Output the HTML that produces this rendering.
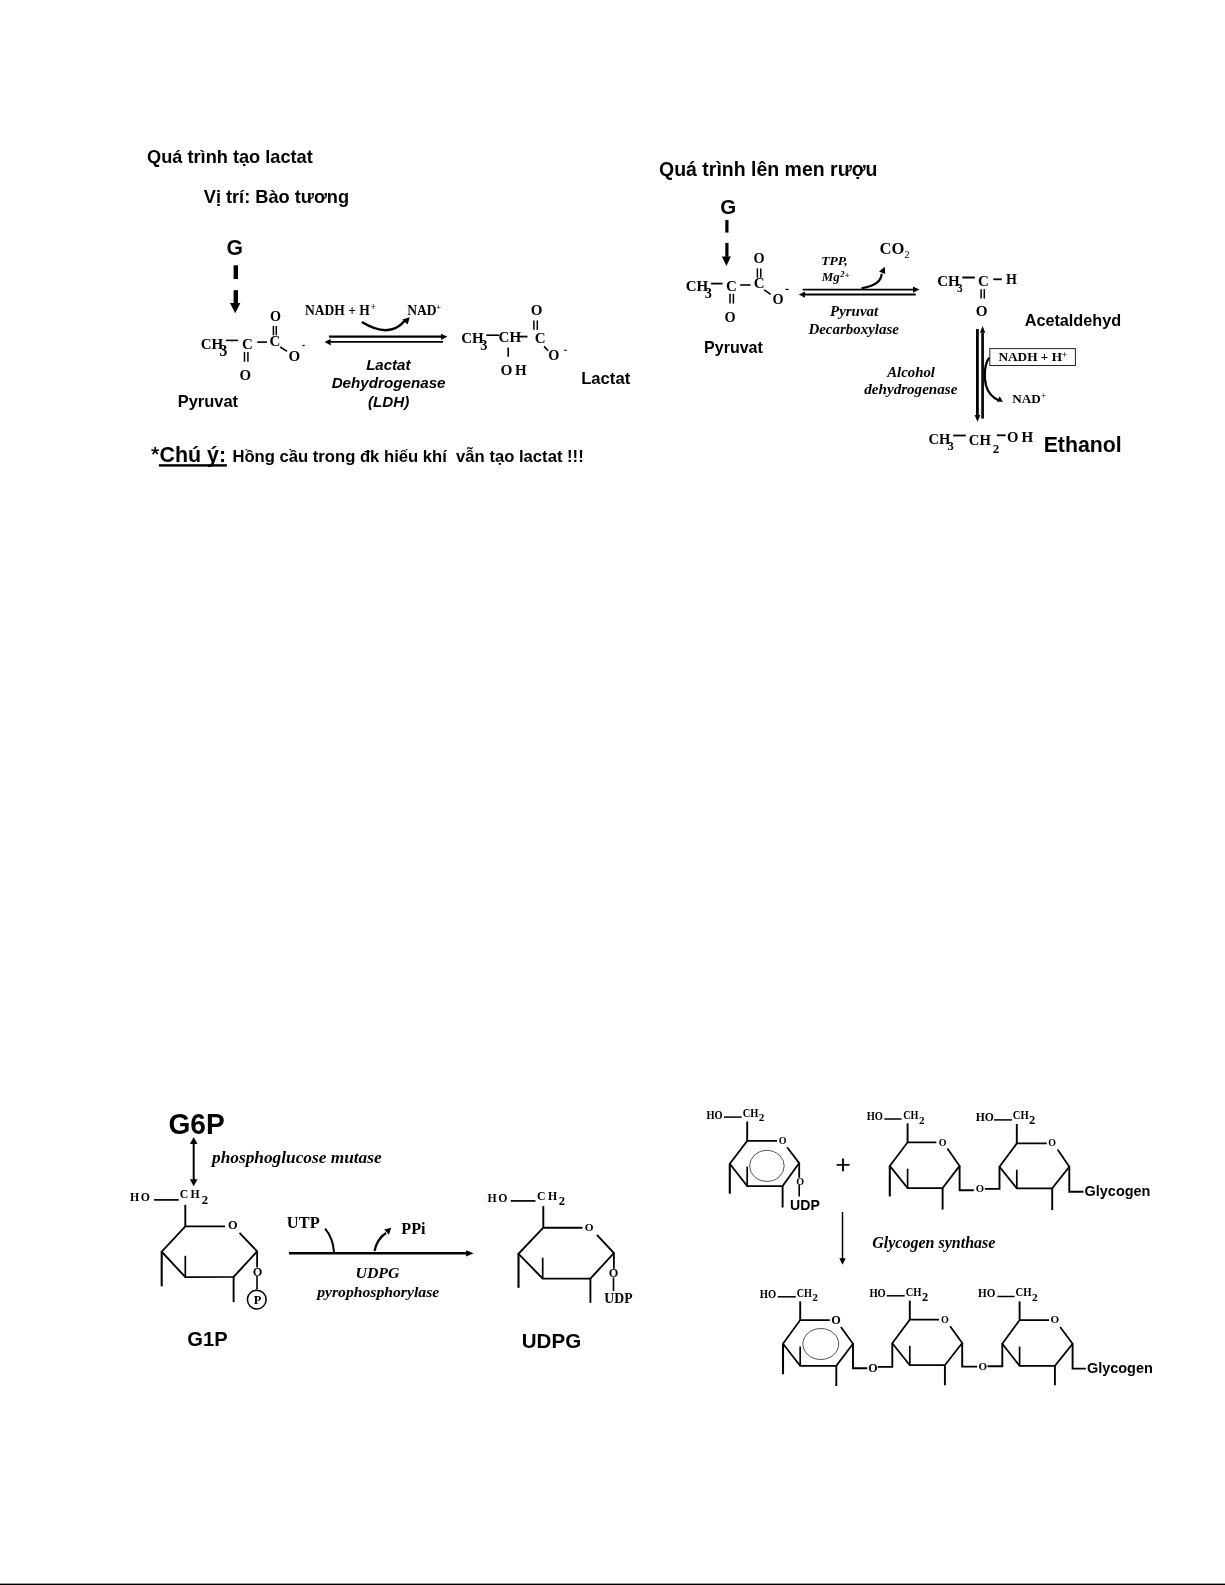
<!DOCTYPE html>
<html><head><meta charset="utf-8"><title>Page</title>
<style>html,body{margin:0;padding:0;background:#fff;}svg{display:block;filter:grayscale(1);}text{white-space:pre;}</style>
</head><body>
<svg width="1225" height="1585" viewBox="0 0 1225 1585">
<rect x="0" y="0" width="1225" height="1585" fill="#fff"/>
<text x="147.07" y="163.40" font-family='"Liberation Sans", sans-serif' font-weight="bold" font-style="normal" font-size="18.2" fill="#000">Quá trình tạo lactat</text>
<text x="203.76" y="202.60" font-family='"Liberation Sans", sans-serif' font-weight="bold" font-style="normal" font-size="18.2" fill="#000">Vị trí: Bào tương</text>
<text x="226.55" y="254.69" font-family='"Liberation Sans", sans-serif' font-weight="bold" font-style="normal" font-size="21.2" fill="#000">G</text>
<rect x="233.6" y="265.3" width="4.4" height="13.7" fill="#000"/>
<rect x="233.6" y="290.2" width="4.4" height="13.5" fill="#000"/>
<polygon points="230,303 240.4,303 235.2,313.3" fill="#000"/>
<text x="200.65" y="349.00" font-family='"Liberation Serif", serif' font-weight="bold" font-style="normal" font-size="15" fill="#000">CH</text>
<text x="219.39" y="355.74" font-family='"Liberation Serif", serif' font-weight="bold" font-style="normal" font-size="15.76" fill="#000">3</text>
<line x1="225.9" y1="340.4" x2="238.1" y2="340.4" stroke="#000" stroke-width="1.6" stroke-linecap="butt"/>
<text x="241.94" y="349.00" font-family='"Liberation Serif", serif' font-weight="bold" font-style="normal" font-size="15" fill="#000">C</text>
<line x1="244.5" y1="351.9" x2="244.5" y2="361.7" stroke="#000" stroke-width="1.5" stroke-linecap="butt"/>
<line x1="247.9" y1="351.9" x2="247.9" y2="361.7" stroke="#000" stroke-width="1.5" stroke-linecap="butt"/>
<text x="239.60" y="379.55" font-family='"Liberation Serif", serif' font-weight="bold" font-style="normal" font-size="14.87" fill="#000">O</text>
<line x1="257.2" y1="342.1" x2="267" y2="342.1" stroke="#000" stroke-width="1.6" stroke-linecap="butt"/>
<text x="269.59" y="346.00" font-family='"Liberation Serif", serif' font-weight="bold" font-style="normal" font-size="15" fill="#000">C</text>
<line x1="273.4" y1="326" x2="273.4" y2="335.3" stroke="#000" stroke-width="1.5" stroke-linecap="butt"/>
<line x1="276.3" y1="326" x2="276.3" y2="335.3" stroke="#000" stroke-width="1.5" stroke-linecap="butt"/>
<text x="270.09" y="320.76" font-family='"Liberation Serif", serif' font-weight="bold" font-style="normal" font-size="14.13" fill="#000">O</text>
<line x1="280.2" y1="347" x2="287.1" y2="351.4" stroke="#000" stroke-width="1.6" stroke-linecap="butt"/>
<text x="288.54" y="361.45" font-family='"Liberation Serif", serif' font-weight="bold" font-style="normal" font-size="15.02" fill="#000">O</text>
<rect x="302.3" y="344.9" width="2.4" height="1.2" fill="#000"/>
<text x="305.03" y="314.70" font-family='"Liberation Serif", serif' font-weight="bold" font-style="normal" font-size="13.54" fill="#000">NADH + H</text>
<text x="370.50" y="310.05" font-family='"Liberation Serif", serif' font-weight="bold" font-style="normal" font-size="9.46" fill="#000">+</text>
<text x="407.23" y="314.70" font-family='"Liberation Serif", serif' font-weight="bold" font-style="normal" font-size="13.54" fill="#000">NAD</text>
<text x="436.20" y="309.76" font-family='"Liberation Serif", serif' font-weight="bold" font-style="normal" font-size="8.6" fill="#000">+</text>
<path d="M361.9 322 Q389.6 339 405 320.6" stroke="#000" stroke-width="2.4" fill="none"/>
<polygon points="409.8,317.2 402.4,319.4 407.6,324.6" fill="#000"/>
<line x1="329" y1="336.7" x2="442" y2="336.7" stroke="#000" stroke-width="2.2" stroke-linecap="butt"/>
<polygon points="447.4,336.8 440.9,333.7 441.4,336.8 440.9,340.1" fill="#000"/>
<line x1="329.5" y1="341.9" x2="443" y2="341.9" stroke="#000" stroke-width="1.9" stroke-linecap="butt"/>
<polygon points="324.6,341.9 330.9,338.7 330.4,341.9 330.9,345.5" fill="#000"/>
<text x="366.14" y="369.60" font-family='"Liberation Sans", sans-serif' font-weight="bold" font-style="italic" font-size="15.05" fill="#000">Lactat</text>
<text x="331.63" y="387.70" font-family='"Liberation Sans", sans-serif' font-weight="bold" font-style="italic" font-size="15.19" fill="#000">Dehydrogenase</text>
<text x="367.97" y="406.80" font-family='"Liberation Sans", sans-serif' font-weight="bold" font-style="italic" font-size="15.18" fill="#000">(LDH)</text>
<text x="461.15" y="343.00" font-family='"Liberation Serif", serif' font-weight="bold" font-style="normal" font-size="15" fill="#000">CH</text>
<text x="480.28" y="349.66" font-family='"Liberation Serif", serif' font-weight="bold" font-style="normal" font-size="14.42" fill="#000">3</text>
<line x1="486.3" y1="335.2" x2="499.1" y2="335.2" stroke="#000" stroke-width="1.6" stroke-linecap="butt"/>
<text x="498.55" y="342.00" font-family='"Liberation Serif", serif' font-weight="bold" font-style="normal" font-size="15" fill="#000">CH</text>
<line x1="517.7" y1="336.6" x2="527.5" y2="336.6" stroke="#000" stroke-width="1.8" stroke-linecap="butt"/>
<line x1="508.2" y1="347.4" x2="508.2" y2="356.7" stroke="#000" stroke-width="1.6" stroke-linecap="butt"/>
<text x="500.43" y="375.25" font-family='"Liberation Serif", serif' font-weight="bold" font-style="normal" font-size="15.32" fill="#000">O</text>
<text x="515.00" y="375.30" font-family='"Liberation Serif", serif' font-weight="bold" font-style="normal" font-size="15" fill="#000">H</text>
<text x="534.74" y="343.00" font-family='"Liberation Serif", serif' font-weight="bold" font-style="normal" font-size="15" fill="#000">C</text>
<line x1="533.9" y1="320.5" x2="533.9" y2="329.8" stroke="#000" stroke-width="1.5" stroke-linecap="butt"/>
<line x1="537.3" y1="320.5" x2="537.3" y2="329.8" stroke="#000" stroke-width="1.5" stroke-linecap="butt"/>
<text x="530.69" y="315.35" font-family='"Liberation Serif", serif' font-weight="bold" font-style="normal" font-size="15.02" fill="#000">O</text>
<line x1="544.1" y1="346.4" x2="548.1" y2="350.8" stroke="#000" stroke-width="1.6" stroke-linecap="butt"/>
<text x="548.13" y="360.36" font-family='"Liberation Serif", serif' font-weight="bold" font-style="normal" font-size="14.28" fill="#000">O</text>
<rect x="564.2" y="349.7" width="2.5" height="1.2" fill="#000"/>
<text x="581.18" y="383.70" font-family='"Liberation Sans", sans-serif' font-weight="bold" font-style="normal" font-size="16.65" fill="#000">Lactat</text>
<text x="177.69" y="406.60" font-family='"Liberation Sans", sans-serif' font-weight="bold" font-style="normal" font-size="16.47" fill="#000">Pyruvat</text>
<line x1="155.2" y1="450.9" x2="155.2" y2="447.6" stroke="#000" stroke-width="1.7" stroke-linecap="round"/>
<line x1="155.2" y1="450.9" x2="152.0" y2="450.0" stroke="#000" stroke-width="1.7" stroke-linecap="round"/>
<line x1="155.2" y1="450.9" x2="158.4" y2="450.0" stroke="#000" stroke-width="1.7" stroke-linecap="round"/>
<line x1="155.2" y1="450.9" x2="153.1" y2="453.5" stroke="#000" stroke-width="1.7" stroke-linecap="round"/>
<line x1="155.2" y1="450.9" x2="157.3" y2="453.5" stroke="#000" stroke-width="1.7" stroke-linecap="round"/>
<text x="159.44" y="462.00" font-family='"Liberation Sans", sans-serif' font-weight="bold" font-style="normal" font-size="21.41" fill="#000">Chú ý:</text>
<rect x="158.9" y="464.2" width="68" height="2.4" fill="#000"/>
<text x="232.38" y="462.00" font-family='"Liberation Sans", sans-serif' font-weight="bold" font-style="normal" font-size="16.65" fill="#000">Hồng cầu trong đk hiếu khí  vẫn tạo lactat !!!</text>
<text x="659.02" y="176.00" font-family='"Liberation Sans", sans-serif' font-weight="bold" font-style="normal" font-size="19.49" fill="#000">Quá trình lên men rượu</text>
<text x="720.27" y="213.70" font-family='"Liberation Sans", sans-serif' font-weight="bold" font-style="normal" font-size="20.49" fill="#000">G</text>
<rect x="725.3" y="219.9" width="3.2" height="12.7" fill="#000"/>
<rect x="725.3" y="242.9" width="3.2" height="14" fill="#000"/>
<polygon points="721.9,256.6 730.9,256.6 726.4,265.9" fill="#000"/>
<text x="685.65" y="290.90" font-family='"Liberation Serif", serif' font-weight="bold" font-style="normal" font-size="15" fill="#000">CH</text>
<text x="704.81" y="297.56" font-family='"Liberation Serif", serif' font-weight="bold" font-style="normal" font-size="14.28" fill="#000">3</text>
<line x1="710.9" y1="283.6" x2="722.6" y2="283.6" stroke="#000" stroke-width="1.8" stroke-linecap="butt"/>
<text x="725.94" y="290.90" font-family='"Liberation Serif", serif' font-weight="bold" font-style="normal" font-size="15" fill="#000">C</text>
<line x1="730" y1="293.8" x2="730" y2="303.6" stroke="#000" stroke-width="1.5" stroke-linecap="butt"/>
<line x1="733.4" y1="293.8" x2="733.4" y2="303.6" stroke="#000" stroke-width="1.5" stroke-linecap="butt"/>
<text x="724.38" y="321.56" font-family='"Liberation Serif", serif' font-weight="bold" font-style="normal" font-size="14.28" fill="#000">O</text>
<line x1="740.2" y1="285" x2="750.5" y2="285" stroke="#000" stroke-width="1.6" stroke-linecap="butt"/>
<text x="753.69" y="288.00" font-family='"Liberation Serif", serif' font-weight="bold" font-style="normal" font-size="15" fill="#000">C</text>
<line x1="757.4" y1="268.4" x2="757.4" y2="277.7" stroke="#000" stroke-width="1.5" stroke-linecap="butt"/>
<line x1="760.8" y1="268.4" x2="760.8" y2="277.7" stroke="#000" stroke-width="1.5" stroke-linecap="butt"/>
<text x="753.53" y="262.76" font-family='"Liberation Serif", serif' font-weight="bold" font-style="normal" font-size="14.28" fill="#000">O</text>
<line x1="764.2" y1="289.9" x2="770.6" y2="294.3" stroke="#000" stroke-width="1.6" stroke-linecap="butt"/>
<text x="772.38" y="303.86" font-family='"Liberation Serif", serif' font-weight="bold" font-style="normal" font-size="14.28" fill="#000">O</text>
<rect x="785.3" y="288.8" width="3.4" height="1.2" fill="#000"/>
<text x="704.02" y="353.10" font-family='"Liberation Sans", sans-serif' font-weight="bold" font-style="normal" font-size="16.06" fill="#000">Pyruvat</text>
<text x="821.22" y="264.90" font-family='"Liberation Serif", serif' font-weight="bold" font-style="italic" font-size="13.46" fill="#000">TPP,</text>
<text x="821.76" y="280.70" font-family='"Liberation Serif", serif' font-weight="bold" font-style="italic" font-size="12.95" fill="#000">Mg</text>
<text x="840.25" y="276.90" font-family='"Liberation Serif", serif' font-weight="bold" font-style="italic" font-size="8.6" fill="#000">2</text>
<text x="844.51" y="277.60" font-family='"Liberation Serif", serif' font-weight="bold" font-style="italic" font-size="9.03" fill="#000">+</text>
<text x="879.57" y="254.10" font-family='"Liberation Serif", serif' font-weight="bold" font-style="normal" font-size="16.61" fill="#000">CO</text>
<text x="904.42" y="257.70" font-family='"Liberation Serif", serif' font-weight="normal" font-style="normal" font-size="10.11" fill="#000">2</text>
<line x1="802.6" y1="289.6" x2="914" y2="289.6" stroke="#000" stroke-width="1.7" stroke-linecap="butt"/>
<polygon points="919.4,289.5 913,286.6 913,292.7" fill="#000"/>
<line x1="804" y1="294.6" x2="915.7" y2="294.6" stroke="#000" stroke-width="2" stroke-linecap="butt"/>
<polygon points="798.8,294.4 805,291.5 805,297.8" fill="#000"/>
<path d="M861.5 288.3 Q881.5 285 881.6 273.8" stroke="#000" stroke-width="2.2" fill="none"/>
<polygon points="884.8,266.7 879,271.6 885.2,274" fill="#000"/>
<text x="830.00" y="315.60" font-family='"Liberation Serif", serif' font-weight="bold" font-style="italic" font-size="14.97" fill="#000">Pyruvat</text>
<text x="808.41" y="333.50" font-family='"Liberation Serif", serif' font-weight="bold" font-style="italic" font-size="14.95" fill="#000">Decarboxylase</text>
<text x="937.25" y="286.00" font-family='"Liberation Serif", serif' font-weight="bold" font-style="normal" font-size="15" fill="#000">CH</text>
<text x="957.12" y="291.79" font-family='"Liberation Serif", serif' font-weight="bold" font-style="normal" font-size="11.45" fill="#000">3</text>
<line x1="962.3" y1="277.5" x2="974.8" y2="277.5" stroke="#000" stroke-width="2" stroke-linecap="butt"/>
<text x="977.94" y="286.00" font-family='"Liberation Serif", serif' font-weight="bold" font-style="normal" font-size="15" fill="#000">C</text>
<line x1="993.2" y1="279.3" x2="1001.8" y2="279.3" stroke="#000" stroke-width="1.8" stroke-linecap="butt"/>
<text x="1005.97" y="284.10" font-family='"Liberation Serif", serif' font-weight="bold" font-style="normal" font-size="14.05" fill="#000">H</text>
<line x1="981.1" y1="289.2" x2="981.1" y2="298.6" stroke="#000" stroke-width="1.5" stroke-linecap="butt"/>
<line x1="984.3" y1="289.2" x2="984.3" y2="298.6" stroke="#000" stroke-width="1.5" stroke-linecap="butt"/>
<text x="975.68" y="316.35" font-family='"Liberation Serif", serif' font-weight="bold" font-style="normal" font-size="15.17" fill="#000">O</text>
<text x="1024.69" y="326.10" font-family='"Liberation Sans", sans-serif' font-weight="bold" font-style="normal" font-size="16.23" fill="#000">Acetaldehyd</text>
<rect x="976" y="329.1" width="2.8" height="86" fill="#000"/>
<polygon points="974.6,415 980.4,415 977.5,421.7" fill="#000"/>
<rect x="981.3" y="332.6" width="2.6" height="86" fill="#000"/>
<polygon points="980,332.8 985.3,332.8 982.6,326" fill="#000"/>
<rect x="989.8" y="348.6" width="85.6" height="16.9" fill="none" stroke="#222" stroke-width="1"/>
<text x="998.43" y="360.90" font-family='"Liberation Serif", serif' font-weight="bold" font-style="normal" font-size="13.28" fill="#000">NADH + H</text>
<text x="1061.15" y="358.10" font-family='"Liberation Serif", serif' font-weight="normal" font-style="normal" font-size="10.97" fill="#000">+</text>
<path d="M989.3 357.8 C984.3 364 983.8 377 986 385.5 C988 392.5 992.5 397.5 998.5 400.2" stroke="#000" stroke-width="2.3" fill="none"/>
<polygon points="1003,401.8 999.6,396.2 997,401.8" fill="#000"/>
<text x="1012.24" y="402.80" font-family='"Liberation Serif", serif' font-weight="bold" font-style="normal" font-size="13.16" fill="#000">NAD</text>
<text x="1041.12" y="399.37" font-family='"Liberation Serif", serif' font-weight="normal" font-style="normal" font-size="9.68" fill="#000">+</text>
<text x="887.18" y="376.50" font-family='"Liberation Serif", serif' font-weight="bold" font-style="italic" font-size="14.82" fill="#000">Alcohol</text>
<text x="864.31" y="393.90" font-family='"Liberation Serif", serif' font-weight="bold" font-style="italic" font-size="15.1" fill="#000">dehydrogenase</text>
<text x="928.48" y="444.20" font-family='"Liberation Serif", serif' font-weight="bold" font-style="normal" font-size="14.5" fill="#000">CH</text>
<text x="947.62" y="450.27" font-family='"Liberation Serif", serif' font-weight="bold" font-style="normal" font-size="12.64" fill="#000">3</text>
<line x1="953.2" y1="435.5" x2="965.8" y2="435.5" stroke="#000" stroke-width="1.8" stroke-linecap="butt"/>
<text x="968.86" y="444.70" font-family='"Liberation Serif", serif' font-weight="bold" font-style="normal" font-size="14.7" fill="#000">CH</text>
<text x="992.82" y="452.90" font-family='"Liberation Serif", serif' font-weight="bold" font-style="normal" font-size="13.13" fill="#000">2</text>
<line x1="996.8" y1="435.3" x2="1005.7" y2="435.3" stroke="#000" stroke-width="1.8" stroke-linecap="butt"/>
<text x="1007.01" y="442.35" font-family='"Liberation Serif", serif' font-weight="bold" font-style="normal" font-size="14.72" fill="#000">O</text>
<text x="1021.45" y="441.90" font-family='"Liberation Serif", serif' font-weight="bold" font-style="normal" font-size="15" fill="#000">H</text>
<text x="1043.66" y="451.80" font-family='"Liberation Sans", sans-serif' font-weight="bold" font-style="normal" font-size="21.3" fill="#000">Ethanol</text>
<text x="168.38" y="1133.70" font-family='"Liberation Sans", sans-serif' font-weight="bold" font-style="normal" font-size="29" textLength="56.27" lengthAdjust="spacingAndGlyphs" fill="#000">G6P</text>
<line x1="193.7" y1="1143" x2="193.7" y2="1180" stroke="#000" stroke-width="2" stroke-linecap="butt"/>
<polygon points="193.7,1136.9 189.9,1143.9 197.5,1143.9" fill="#000"/>
<polygon points="193.7,1186.3 189.9,1179.3 197.5,1179.3" fill="#000"/>
<text x="212.01" y="1162.60" font-family='"Liberation Serif", serif' font-weight="bold" font-style="italic" font-size="17.31" fill="#000">phosphoglucose mutase</text>
<text x="129.99" y="1200.90" font-family='"Liberation Serif", serif' font-weight="bold" font-style="normal" font-size="11.8" textLength="19.98" lengthAdjust="spacing" fill="#000">HO</text>
<line x1="154" y1="1199.9" x2="178.8" y2="1199.9" stroke="#000" stroke-width="1.7" stroke-linecap="butt"/>
<text x="179.81" y="1198.20" font-family='"Liberation Serif", serif' font-weight="bold" font-style="normal" font-size="11.8" textLength="19.87" lengthAdjust="spacing" fill="#000">CH</text>
<text x="201.73" y="1203.80" font-family='"Liberation Serif", serif' font-weight="bold" font-style="normal" font-size="12.68" fill="#000">2</text>
<line x1="185.3" y1="1204.8" x2="185.3" y2="1226.4" stroke="#000" stroke-width="1.9" stroke-linecap="butt"/>
<polyline points="225.1,1226.4 185.3,1226.4 161.7,1251.7 185.3,1277.1 233.6,1276.9 257.1,1251.4 239.5,1232.9" stroke="#000" stroke-width="1.9" fill="none" stroke-linejoin="miter"/>
<text x="227.89" y="1229.38" font-family='"Liberation Serif", serif' font-weight="bold" font-style="normal" font-size="12.34" fill="#000">O</text>
<line x1="161.7" y1="1251.7" x2="161.7" y2="1286.3" stroke="#000" stroke-width="2.1" stroke-linecap="butt"/>
<line x1="185.3" y1="1277.1" x2="185.3" y2="1255.8" stroke="#000" stroke-width="1.7" stroke-linecap="butt"/>
<line x1="233.6" y1="1276.9" x2="233.6" y2="1302.1" stroke="#000" stroke-width="1.9" stroke-linecap="butt"/>
<line x1="257.1" y1="1251.4" x2="257.1" y2="1267.5" stroke="#000" stroke-width="1.8" stroke-linecap="butt"/>
<text x="252.64" y="1275.78" font-family='"Liberation Serif", serif' font-weight="bold" font-style="normal" font-size="12.34" fill="#000">O</text>
<line x1="257" y1="1276" x2="257" y2="1289.6" stroke="#000" stroke-width="1.6" stroke-linecap="butt"/>
<circle cx="256.8" cy="1299.6" r="9.4" fill="none" stroke="#000" stroke-width="1.5"/>
<text x="253.84" y="1303.60" font-family='"Liberation Serif", serif' font-weight="bold" font-style="normal" font-size="12.37" fill="#000">P</text>
<text x="286.89" y="1227.50" font-family='"Liberation Serif", serif' font-weight="bold" font-style="normal" font-size="15.7" textLength="32.76" lengthAdjust="spacingAndGlyphs" fill="#000">UTP</text>
<path d="M325.1 1228.7 Q333 1238 334 1252" stroke="#000" stroke-width="2" fill="none"/>
<line x1="288.9" y1="1253.2" x2="467" y2="1253.2" stroke="#000" stroke-width="2.4" stroke-linecap="butt"/>
<polygon points="473.7,1253.3 466.1,1250.2 466.1,1256.5" fill="#000"/>
<path d="M374.5 1251 Q377 1239 386 1233" stroke="#000" stroke-width="2.2" fill="none"/>
<polygon points="391.2,1227.8 384.2,1229.6 388.9,1234.8" fill="#000"/>
<text x="401.32" y="1234.40" font-family='"Liberation Serif", serif' font-weight="bold" font-style="normal" font-size="15.7" textLength="24.22" lengthAdjust="spacingAndGlyphs" fill="#000">PPi</text>
<text x="355.49" y="1278.40" font-family='"Liberation Serif", serif' font-weight="bold" font-style="italic" font-size="14.1" textLength="44.00" lengthAdjust="spacingAndGlyphs" fill="#000">UDPG</text>
<text x="317.20" y="1296.60" font-family='"Liberation Serif", serif' font-weight="bold" font-style="italic" font-size="14.3" textLength="122.03" lengthAdjust="spacingAndGlyphs" fill="#000">pyrophosphorylase</text>
<text x="487.39" y="1201.90" font-family='"Liberation Serif", serif' font-weight="bold" font-style="normal" font-size="11.8" textLength="19.98" lengthAdjust="spacing" fill="#000">HO</text>
<line x1="510.7" y1="1200.9" x2="535.5" y2="1200.9" stroke="#000" stroke-width="1.7" stroke-linecap="butt"/>
<text x="536.91" y="1200.20" font-family='"Liberation Serif", serif' font-weight="bold" font-style="normal" font-size="11.8" textLength="20.37" lengthAdjust="spacing" fill="#000">CH</text>
<text x="558.82" y="1205.40" font-family='"Liberation Serif", serif' font-weight="bold" font-style="normal" font-size="12.53" fill="#000">2</text>
<line x1="543.3" y1="1206.1" x2="543.3" y2="1227.7" stroke="#000" stroke-width="1.9" stroke-linecap="butt"/>
<polyline points="582.5,1227.7 543.3,1227.7 518.5,1253.8 542.7,1278.6 590.4,1278.6 613.9,1253.1 596.9,1234.9" stroke="#000" stroke-width="1.9" fill="none" stroke-linejoin="miter"/>
<text x="584.64" y="1230.69" font-family='"Liberation Serif", serif' font-weight="bold" font-style="normal" font-size="11.3" fill="#000">O</text>
<line x1="518.5" y1="1253.8" x2="518.5" y2="1287.8" stroke="#000" stroke-width="2.1" stroke-linecap="butt"/>
<line x1="542.7" y1="1278.6" x2="542.7" y2="1257.7" stroke="#000" stroke-width="1.7" stroke-linecap="butt"/>
<line x1="590.4" y1="1278.6" x2="590.4" y2="1302.8" stroke="#000" stroke-width="1.9" stroke-linecap="butt"/>
<line x1="613.9" y1="1253.1" x2="613.9" y2="1268.8" stroke="#000" stroke-width="1.8" stroke-linecap="butt"/>
<text x="608.74" y="1277.08" font-family='"Liberation Serif", serif' font-weight="bold" font-style="normal" font-size="12.34" fill="#000">O</text>
<line x1="613.5" y1="1277.3" x2="613.5" y2="1291" stroke="#000" stroke-width="1.6" stroke-linecap="butt"/>
<text x="604.36" y="1302.80" font-family='"Liberation Serif", serif' font-weight="bold" font-style="normal" font-size="13.73" fill="#000">UDP</text>
<text x="187.29" y="1345.50" font-family='"Liberation Sans", sans-serif' font-weight="bold" font-style="normal" font-size="20.8" textLength="40.38" lengthAdjust="spacingAndGlyphs" fill="#000">G1P</text>
<text x="521.77" y="1347.90" font-family='"Liberation Sans", sans-serif' font-weight="bold" font-style="normal" font-size="20.4" textLength="59.40" lengthAdjust="spacingAndGlyphs" fill="#000">UDPG</text>
<text x="706.52" y="1118.70" font-family='"Liberation Serif", serif' font-weight="bold" font-style="normal" font-size="11.5" textLength="16.18" lengthAdjust="spacingAndGlyphs" fill="#000">HO</text>
<line x1="723.9" y1="1117.1" x2="741.6" y2="1117.1" stroke="#000" stroke-width="1.5" stroke-linecap="butt"/>
<text x="742.78" y="1116.70" font-family='"Liberation Serif", serif' font-weight="bold" font-style="normal" font-size="11.5" textLength="15.68" lengthAdjust="spacingAndGlyphs" fill="#000">CH</text>
<text x="758.76" y="1121.40" font-family='"Liberation Serif", serif' font-weight="bold" font-style="normal" font-size="11.17" fill="#000">2</text>
<line x1="747.2" y1="1121.5" x2="747.2" y2="1140.9" stroke="#000" stroke-width="1.9" stroke-linecap="butt"/>
<polyline points="777,1140.9 747.2,1140.9 729.8,1163.8 747.2,1186 782.6,1186 799.2,1163.1 787.1,1147.2" stroke="#000" stroke-width="1.75" fill="none" stroke-linejoin="miter"/>
<text x="778.67" y="1143.50" font-family='"Liberation Serif", serif' font-weight="bold" font-style="normal" font-size="9.96" fill="#000">O</text>
<line x1="729.8" y1="1163.8" x2="729.8" y2="1193.7" stroke="#000" stroke-width="2.1" stroke-linecap="butt"/>
<line x1="747.2" y1="1186" x2="747.2" y2="1166.6" stroke="#000" stroke-width="1.7" stroke-linecap="butt"/>
<line x1="782.6" y1="1186" x2="782.6" y2="1207.5" stroke="#000" stroke-width="1.9" stroke-linecap="butt"/>
<line x1="799.2" y1="1163.1" x2="799.2" y2="1177.7" stroke="#000" stroke-width="1.8" stroke-linecap="butt"/>
<text x="796.16" y="1184.50" font-family='"Liberation Serif", serif' font-weight="bold" font-style="normal" font-size="10.11" fill="#000">O</text>
<line x1="799.2" y1="1184.7" x2="799.2" y2="1196.5" stroke="#000" stroke-width="1.6" stroke-linecap="butt"/>
<text x="790.06" y="1209.60" font-family='"Liberation Sans", sans-serif' font-weight="bold" font-style="normal" font-size="14.08" fill="#000">UDP</text>
<ellipse cx="766.9" cy="1165.9" rx="17.3" ry="15.5" fill="none" stroke="#555" stroke-width="1"/>
<line x1="836.6" y1="1164.9" x2="849.6" y2="1164.9" stroke="#000" stroke-width="1.7" stroke-linecap="butt"/>
<line x1="843" y1="1158.6" x2="843" y2="1171.3" stroke="#000" stroke-width="1.9" stroke-linecap="butt"/>
<text x="866.72" y="1120.10" font-family='"Liberation Serif", serif' font-weight="bold" font-style="normal" font-size="11.5" textLength="16.29" lengthAdjust="spacingAndGlyphs" fill="#000">HO</text>
<line x1="884.3" y1="1119" x2="901.6" y2="1119" stroke="#000" stroke-width="1.5" stroke-linecap="butt"/>
<text x="903.19" y="1118.70" font-family='"Liberation Serif", serif' font-weight="bold" font-style="normal" font-size="11.5" textLength="15.26" lengthAdjust="spacingAndGlyphs" fill="#000">CH</text>
<text x="918.96" y="1123.50" font-family='"Liberation Serif", serif' font-weight="bold" font-style="normal" font-size="11.17" fill="#000">2</text>
<line x1="907.6" y1="1123.3" x2="907.6" y2="1142.3" stroke="#000" stroke-width="1.9" stroke-linecap="butt"/>
<polyline points="936.3,1142.3 907.6,1142.3 889.8,1165.9 907.6,1188.1 942.6,1188.1 959.6,1165.9 947.4,1148.6" stroke="#000" stroke-width="1.75" fill="none" stroke-linejoin="miter"/>
<text x="938.67" y="1145.60" font-family='"Liberation Serif", serif' font-weight="bold" font-style="normal" font-size="9.96" fill="#000">O</text>
<line x1="889.8" y1="1165.9" x2="889.8" y2="1196.4" stroke="#000" stroke-width="2.1" stroke-linecap="butt"/>
<line x1="907.6" y1="1188.1" x2="907.6" y2="1168.7" stroke="#000" stroke-width="1.7" stroke-linecap="butt"/>
<line x1="942.6" y1="1188.1" x2="942.6" y2="1209.6" stroke="#000" stroke-width="1.9" stroke-linecap="butt"/>
<polyline points="959.6,1165.9 959.6,1190.2 973.8,1190.2" stroke="#000" stroke-width="1.9" fill="none" stroke-linejoin="miter"/>
<text x="975.87" y="1192.49" font-family='"Liberation Serif", serif' font-weight="bold" font-style="normal" font-size="10.71" fill="#000">O</text>
<polyline points="984.9,1188.9 999.5,1188.9 999.5,1166.5" stroke="#000" stroke-width="1.9" fill="none" stroke-linejoin="miter"/>
<text x="975.70" y="1120.60" font-family='"Liberation Serif", serif' font-weight="bold" font-style="normal" font-size="11.5" textLength="18.17" lengthAdjust="spacingAndGlyphs" fill="#000">HO</text>
<line x1="994" y1="1119.9" x2="1011.9" y2="1119.9" stroke="#000" stroke-width="1.5" stroke-linecap="butt"/>
<text x="1012.87" y="1119.40" font-family='"Liberation Serif", serif' font-weight="bold" font-style="normal" font-size="11.5" textLength="15.89" lengthAdjust="spacingAndGlyphs" fill="#000">CH</text>
<text x="1028.92" y="1123.90" font-family='"Liberation Serif", serif' font-weight="bold" font-style="normal" font-size="12.53" fill="#000">2</text>
<line x1="1016.8" y1="1124" x2="1016.8" y2="1143.4" stroke="#000" stroke-width="1.9" stroke-linecap="butt"/>
<polyline points="1046.8,1143.4 1016.8,1143.4 999.5,1166.7 1016.8,1188.4 1052.2,1188.4 1069.3,1166.7 1057.6,1149.6" stroke="#000" stroke-width="1.75" fill="none" stroke-linejoin="miter"/>
<text x="1048.32" y="1146.30" font-family='"Liberation Serif", serif' font-weight="bold" font-style="normal" font-size="9.96" fill="#000">O</text>
<line x1="1016.8" y1="1188.4" x2="1016.8" y2="1169.8" stroke="#000" stroke-width="1.7" stroke-linecap="butt"/>
<line x1="1052.2" y1="1188.4" x2="1052.2" y2="1210.1" stroke="#000" stroke-width="1.9" stroke-linecap="butt"/>
<polyline points="1069.3,1166.7 1069.3,1191.7 1083.5,1191.7" stroke="#000" stroke-width="1.9" fill="none" stroke-linejoin="miter"/>
<text x="1084.52" y="1195.80" font-family='"Liberation Sans", sans-serif' font-weight="bold" font-style="normal" font-size="14.48" fill="#000">Glycogen</text>
<line x1="842.5" y1="1212" x2="842.5" y2="1259" stroke="#000" stroke-width="1.5" stroke-linecap="butt"/>
<polygon points="839.3,1258.3 845.7,1258.3 842.5,1264.8" fill="#000"/>
<text x="872.14" y="1247.70" font-family='"Liberation Serif", serif' font-weight="bold" font-style="italic" font-size="16.05" fill="#000">Glycogen synthase</text>
<text x="759.82" y="1297.90" font-family='"Liberation Serif", serif' font-weight="bold" font-style="normal" font-size="11.5" textLength="16.39" lengthAdjust="spacingAndGlyphs" fill="#000">HO</text>
<line x1="777.8" y1="1296.8" x2="795.8" y2="1296.8" stroke="#000" stroke-width="1.5" stroke-linecap="butt"/>
<text x="796.69" y="1296.50" font-family='"Liberation Serif", serif' font-weight="bold" font-style="normal" font-size="11.5" textLength="15.26" lengthAdjust="spacingAndGlyphs" fill="#000">CH</text>
<text x="812.37" y="1301.30" font-family='"Liberation Serif", serif' font-weight="bold" font-style="normal" font-size="11.32" fill="#000">2</text>
<line x1="800.2" y1="1301.4" x2="800.2" y2="1320.1" stroke="#000" stroke-width="1.9" stroke-linecap="butt"/>
<polyline points="829.8,1320.1 800.2,1320.1 783,1343.7 800.2,1365.9 836.3,1365.9 853,1343.7 840.9,1327" stroke="#000" stroke-width="1.75" fill="none" stroke-linejoin="miter"/>
<text x="831.30" y="1324.08" font-family='"Liberation Serif", serif' font-weight="bold" font-style="normal" font-size="12.19" fill="#000">O</text>
<line x1="783" y1="1343.7" x2="783" y2="1374.2" stroke="#000" stroke-width="2.1" stroke-linecap="butt"/>
<line x1="800.2" y1="1365.9" x2="800.2" y2="1346.5" stroke="#000" stroke-width="1.7" stroke-linecap="butt"/>
<line x1="836.3" y1="1365.9" x2="836.3" y2="1386" stroke="#000" stroke-width="1.9" stroke-linecap="butt"/>
<polyline points="853,1343.7 853,1368.3 867.3,1368.3" stroke="#000" stroke-width="1.9" fill="none" stroke-linejoin="miter"/>
<text x="868.35" y="1371.88" font-family='"Liberation Serif", serif' font-weight="bold" font-style="normal" font-size="12.04" fill="#000">O</text>
<polyline points="877.7,1366.9 892.3,1366.9 892.3,1343.3" stroke="#000" stroke-width="1.9" fill="none" stroke-linejoin="miter"/>
<ellipse cx="820.8" cy="1344" rx="17.9" ry="15.5" fill="none" stroke="#555" stroke-width="1"/>
<text x="869.42" y="1297.20" font-family='"Liberation Serif", serif' font-weight="bold" font-style="normal" font-size="11.5" textLength="16.39" lengthAdjust="spacingAndGlyphs" fill="#000">HO</text>
<line x1="886.7" y1="1295.8" x2="904.7" y2="1295.8" stroke="#000" stroke-width="1.5" stroke-linecap="butt"/>
<text x="905.77" y="1295.80" font-family='"Liberation Serif", serif' font-weight="bold" font-style="normal" font-size="11.5" textLength="15.78" lengthAdjust="spacingAndGlyphs" fill="#000">CH</text>
<text x="922.00" y="1300.60" font-family='"Liberation Serif", serif' font-weight="bold" font-style="normal" font-size="12.38" fill="#000">2</text>
<line x1="909.8" y1="1300.7" x2="909.8" y2="1319.7" stroke="#000" stroke-width="1.9" stroke-linecap="butt"/>
<polyline points="939,1319.7 909.8,1319.7 892.3,1343.2 909.8,1365.2 944.9,1365.2 962.2,1343 950.1,1326.3" stroke="#000" stroke-width="1.75" fill="none" stroke-linejoin="miter"/>
<text x="940.91" y="1322.70" font-family='"Liberation Serif", serif' font-weight="bold" font-style="normal" font-size="10.11" fill="#000">O</text>
<line x1="909.8" y1="1365.2" x2="909.8" y2="1345.8" stroke="#000" stroke-width="1.7" stroke-linecap="butt"/>
<line x1="944.9" y1="1365.2" x2="944.9" y2="1385.3" stroke="#000" stroke-width="1.9" stroke-linecap="butt"/>
<polyline points="962.2,1343 962.2,1366.6 977.1,1366.6" stroke="#000" stroke-width="1.9" fill="none" stroke-linejoin="miter"/>
<text x="978.41" y="1369.79" font-family='"Liberation Serif", serif' font-weight="bold" font-style="normal" font-size="11.0" fill="#000">O</text>
<polyline points="987.5,1366.2 1002.3,1366.2 1002.3,1343.5" stroke="#000" stroke-width="1.9" fill="none" stroke-linejoin="miter"/>
<text x="978.11" y="1297.20" font-family='"Liberation Serif", serif' font-weight="bold" font-style="normal" font-size="11.5" textLength="17.33" lengthAdjust="spacingAndGlyphs" fill="#000">HO</text>
<line x1="997.3" y1="1296.5" x2="1014.6" y2="1296.5" stroke="#000" stroke-width="1.5" stroke-linecap="butt"/>
<text x="1015.47" y="1295.80" font-family='"Liberation Serif", serif' font-weight="bold" font-style="normal" font-size="11.5" textLength="15.99" lengthAdjust="spacingAndGlyphs" fill="#000">CH</text>
<text x="1031.92" y="1300.60" font-family='"Liberation Serif", serif' font-weight="bold" font-style="normal" font-size="11.32" fill="#000">2</text>
<line x1="1019.6" y1="1301.4" x2="1019.6" y2="1320.1" stroke="#000" stroke-width="1.9" stroke-linecap="butt"/>
<polyline points="1049,1320.1 1019.6,1320.1 1002.3,1343.7 1019.6,1365.9 1054.9,1365.9 1072.6,1343.7 1060.1,1327" stroke="#000" stroke-width="1.75" fill="none" stroke-linejoin="miter"/>
<text x="1050.50" y="1322.69" font-family='"Liberation Serif", serif' font-weight="bold" font-style="normal" font-size="11.15" fill="#000">O</text>
<line x1="1019.6" y1="1365.9" x2="1019.6" y2="1346.5" stroke="#000" stroke-width="1.7" stroke-linecap="butt"/>
<line x1="1054.9" y1="1365.9" x2="1054.9" y2="1385.3" stroke="#000" stroke-width="1.9" stroke-linecap="butt"/>
<polyline points="1072.6,1343.7 1072.6,1368.6 1085.8,1368.6" stroke="#000" stroke-width="1.9" fill="none" stroke-linejoin="miter"/>
<text x="1086.92" y="1372.60" font-family='"Liberation Sans", sans-serif' font-weight="bold" font-style="normal" font-size="14.48" fill="#000">Glycogen</text>
<rect x="0" y="1583.6" width="1225" height="1.4" fill="#000"/>
</svg>
</body></html>
